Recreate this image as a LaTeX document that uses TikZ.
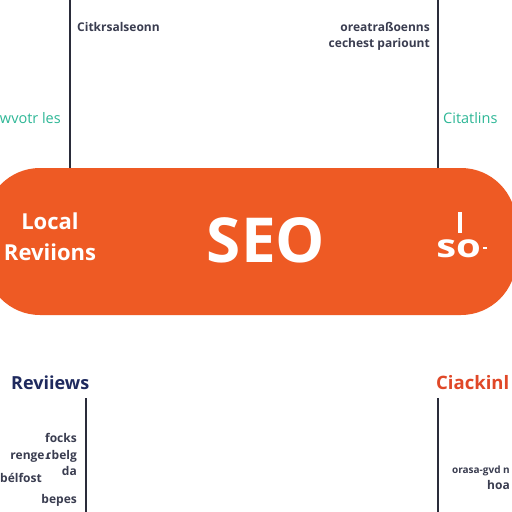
\documentclass[tikz,border=0pt]{standalone}
\usepackage{fontspec}
\setmainfont{Open Sans}
\newfontfamily\dvfont{DejaVu Sans}
\definecolor{seoorange}{HTML}{EE5A24}
\definecolor{tealc}{HTML}{2DB796}
\definecolor{navyc}{HTML}{1F2A5E}
\definecolor{redc}{HTML}{E04828}
\definecolor{darkgrey}{HTML}{3A3D50}
\definecolor{linec}{HTML}{2A2C3A}
\tikzset{
  vline/.style={draw=linec, line width=1.1pt},
  small/.style={inner sep=0pt, text=darkgrey, font=\bfseries\fontsize{12}{14}\selectfont},
  smallb/.style={inner sep=0pt, text=darkgrey, font=\bfseries\fontsize{12}{14}\selectfont},
  tealtxt/.style={inner sep=0pt, text=tealc, font=\fontsize{14.5}{16}\selectfont},
  headtxt/.style={inner sep=0pt, font=\bfseries\fontsize{18}{20}\selectfont},
  whitetxt/.style={inner sep=0pt, text=white, font=\bfseries\fontsize{22}{24}\selectfont}
}
\begin{document}
\begin{tikzpicture}[x=1pt,y=-1pt]
\useasboundingbox (0,0) rectangle (512,512);
\fill[white] (0,0) rectangle (512,512);
\begin{scope}
\clip (0,0) rectangle (512,512);
% band
\fill[seoorange, rounded corners=55pt] (-15,168) rectangle (516,315);
% lines
\coordinate (tl0) at (70,0); \coordinate (tl1) at (70,168);
\coordinate (tr0) at (438,0); \coordinate (tr1) at (438,168);
\coordinate (bl0) at (86,398); \coordinate (bl1) at (86,512);
\coordinate (br0) at (438,398); \coordinate (br1) at (438,512);
\draw[vline] (tl0) -- (tl1);
\draw[vline] (tr0) -- (tr1);
\draw[vline] (bl0) -- (bl1);
\draw[vline] (br0) -- (br1);
% top texts
\node[small, anchor=base west] (t1) at (77,31) {Citkrsalseonn};
\node[small, anchor=base east] (t2) at (430,31) {oreatraßoenns};
\node[small, anchor=base east] (t3) at (430,47) {cechest pariount};
\node[tealtxt, anchor=east] (t4) at (61,118) {wvotr les};
\node[tealtxt, anchor=west] (t5) at (443,118) {Citatlins};
% band texts
\node[whitetxt, anchor=base] (l1) at (50,229) {Local};
\node[whitetxt, anchor=base] (l2) at (50,260) {Reviions};
\node[inner sep=0pt, text=white, font=\bfseries\fontsize{62}{64}\selectfont, anchor=base] (seo) at (266,262) {SEO};
\node[inner sep=0pt, text=white, font=\bfseries\fontsize{32}{34}\selectfont, anchor=base west, xscale=1.25, transform shape] (so) at (436,257) {so};
\fill[white] (457.5,212) rectangle (462,233);
\fill[white] (483,247) rectangle (487,249);
% bottom texts
\node[headtxt, text=navyc, anchor=west] (r1) at (11,383) {Reviiews};
\node[headtxt, text=redc, anchor=west, font=\bfseries\fontsize{18.5}{21}\selectfont] (r2) at (436,383) {Ciackinl};
\node[smallb, anchor=base east] (b1) at (77,442) {focks};
\node[smallb, anchor=base east] (b2) at (77,459) {renge{\dvfont ɾ}belg};
\node[smallb, anchor=base east] (b3) at (77,475) {da};
\node[smallb, anchor=base west] (b4) at (0,482) {bélfost};
\node[smallb, anchor=base east] (b5) at (77,503) {bepes};
\node[smallb, anchor=base east, font=\bfseries\fontsize{10}{12}\selectfont] (b6) at (510,473) {orasa-gvd n};
\node[smallb, anchor=base east] (b7) at (510,489) {hoa};
\end{scope}
\end{tikzpicture}
\end{document}
